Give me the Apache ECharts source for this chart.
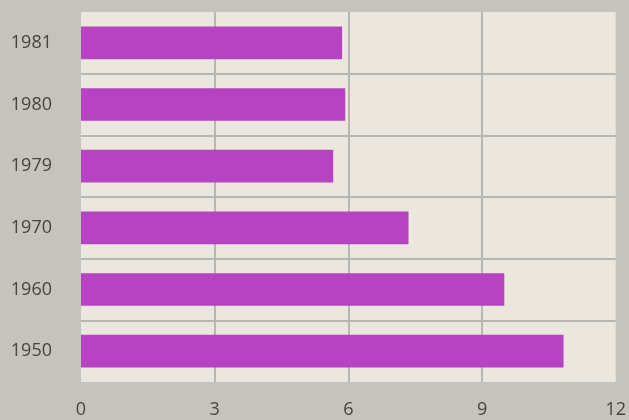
<!DOCTYPE html>
<html>
<head>
<meta charset="utf-8">
<script src="https://cdn.jsdelivr.net/npm/echarts@6/dist/echarts.min.js"></script>
<style>html,body{margin:0;padding:0;background:#c5c3bd;}#c{width:629px;height:420px;}</style>
</head>
<body>
<div id="c"></div>
<script>
const categories = ['1950', '1960', '1970', '1979', '1980', '1981'];
const values = [10.83, 9.5, 7.35, 5.66, 5.93, 5.86];
const xTicks = [0, 3, 6, 9, 12];

const chart = echarts.init(document.getElementById('c'), null, {renderer: 'canvas'});
chart.setOption({
  backgroundColor: '#c5c3bd',
  animation: false,
  grid: {left: 81, right: 12, top: 12, bottom: 38, show: true, backgroundColor: '#ebe7de', borderWidth: 0},
  xAxis: {
    type: 'value', min: xTicks[0], max: xTicks[xTicks.length - 1], interval: 3,
    axisLine: {show: false}, axisTick: {show: false},
    axisLabel: {color: '#47443f', fontFamily: 'Open Sans', fontSize: 18, margin: 19,
      formatter: v => xTicks.includes(v) ? String(v) : ''},
    splitLine: {show: true, showMinLine: false, showMaxLine: false, lineStyle: {color: '#b9b6af', width: 2}}
  },
  yAxis: {
    type: 'category', data: categories,
    axisLine: {show: false}, axisTick: {show: false},
    axisLabel: {color: '#47443f', fontFamily: 'Open Sans', fontSize: 18, margin: 29},
    splitLine: {show: true, interval: 0, showMinLine: false, showMaxLine: false, lineStyle: {color: '#b9b6af', width: 2}}
  },
  series: [{
    type: 'bar', data: values, barWidth: '53%',
    itemStyle: {color: '#b543c2'}
  }]
});
</script>
</body>
</html>
